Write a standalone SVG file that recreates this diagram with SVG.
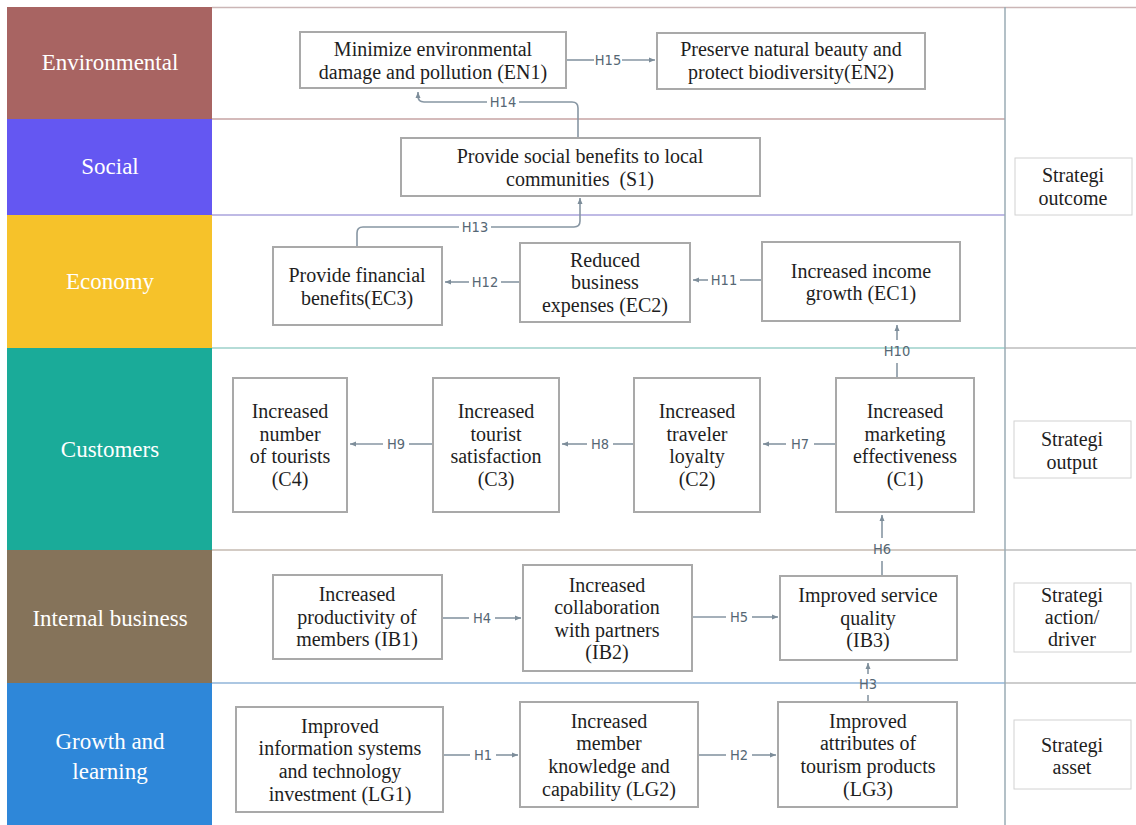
<svg xmlns="http://www.w3.org/2000/svg" width="1136" height="825" viewBox="0 0 1136 825">
<defs>
<marker id="arr" markerUnits="userSpaceOnUse" markerWidth="8" markerHeight="8" refX="6" refY="3" orient="auto">
<path d="M0,0.5 L6,3 L0,5.5 z" fill="#7d8d9a"/>
</marker>
<style>
.band{stroke:none}
.bl{font-family:"Liberation Serif","Times New Roman",serif;font-size:23px;fill:#ffffff;text-anchor:middle}
.box{fill:#ffffff;stroke:#a9a9a9;stroke-width:2}
.sbox{fill:#ffffff;stroke:#d2d2d2;stroke-width:1}
.t{font-family:"Liberation Serif","Times New Roman",serif;font-size:20px;fill:#1e1e1e;text-anchor:middle}
.c{fill:none;stroke:#8796a3;stroke-width:1.6}
.h{font-family:"DejaVu Sans Condensed","DejaVu Sans",sans-serif;font-size:14.5px;fill:#566774;text-anchor:middle}
</style>
</defs>
<rect x="0" y="0" width="1136" height="825" fill="#ffffff"/>
<g id="bands">
<rect class="band" x="7" y="7" width="205" height="112" fill="#a86462"/>
<rect class="band" x="7" y="119" width="205" height="96" fill="#6457f2"/>
<rect class="band" x="7" y="215" width="205" height="133" fill="#f6c22a"/>
<rect class="band" x="7" y="348" width="205" height="202" fill="#1aab99"/>
<rect class="band" x="7" y="550" width="205" height="133" fill="#85735a"/>
<rect class="band" x="7" y="683" width="205" height="142" fill="#2e87d9"/>
<text class="bl" x="110" y="70">Environmental</text>
<text class="bl" x="110" y="174">Social</text>
<text class="bl" x="110" y="289">Economy</text>
<text class="bl" x="110" y="457">Customers</text>
<text class="bl" x="110" y="626">Internal business</text>
<text class="bl" x="110" y="749">Growth and</text>
<text class="bl" x="110" y="779">learning</text>
</g>
<g id="grid" fill="none" stroke-width="1.5">
<line x1="212" y1="7.5" x2="1136" y2="7.5" stroke="#cbb6b6"/>
<line x1="212" y1="119" x2="1005" y2="119" stroke="#c6a3a3"/>
<line x1="212" y1="215" x2="1005" y2="215" stroke="#aaa3dc"/>
<line x1="212" y1="348" x2="1005" y2="348" stroke="#9dd0ca"/>
<line x1="1005" y1="348" x2="1136" y2="348" stroke="#bcbcbc"/>
<line x1="212" y1="550" x2="1005" y2="550" stroke="#c4bab0"/>
<line x1="1005" y1="550" x2="1136" y2="550" stroke="#bcbcbc"/>
<line x1="212" y1="683" x2="1005" y2="683" stroke="#90b5d8"/>
<line x1="1005" y1="683" x2="1136" y2="683" stroke="#bcbcbc"/>
<line x1="1005" y1="7" x2="1005" y2="825" stroke="#9aabb4"/>
</g>
<g id="connectors">
<path class="c" d="M566 60 H594"/><path class="c" d="M622 60 H655" marker-end="url(#arr)"/>
<text class="h" x="608" y="65">H15</text>
<path class="c" d="M578 138 V108 Q578 102 572 102 H519"/><path class="c" d="M487 102 H424 Q418 102 418 96 V92" marker-end="url(#arr)"/>
<text class="h" x="503" y="107">H14</text>
<path class="c" d="M357 247 V233 Q357 227 363 227 H459"/><path class="c" d="M491 227 H574 Q580 227 580 221 V198" marker-end="url(#arr)"/>
<text class="h" x="475" y="232">H13</text>
<path class="c" d="M520 282 H501"/><path class="c" d="M469 282 H445" marker-end="url(#arr)"/>
<text class="h" x="485" y="287">H12</text>
<path class="c" d="M762 280 H740"/><path class="c" d="M708 280 H693" marker-end="url(#arr)"/>
<text class="h" x="724" y="285">H11</text>
<path class="c" d="M897 378 V363"/><path class="c" d="M897 340 V325" marker-end="url(#arr)"/>
<text class="h" x="897" y="356">H10</text>
<path class="c" d="M433 444 H409"/><path class="c" d="M383 444 H350" marker-end="url(#arr)"/>
<text class="h" x="396" y="449">H9</text>
<path class="c" d="M634 444 H613"/><path class="c" d="M587 444 H562" marker-end="url(#arr)"/>
<text class="h" x="600" y="449">H8</text>
<path class="c" d="M836 444 H814"/><path class="c" d="M786 444 H763" marker-end="url(#arr)"/>
<text class="h" x="800" y="449">H7</text>
<path class="c" d="M882 576 V561"/><path class="c" d="M882 538 V515" marker-end="url(#arr)"/>
<text class="h" x="882" y="554">H6</text>
<path class="c" d="M442 618 H469"/><path class="c" d="M495 618 H521" marker-end="url(#arr)"/>
<text class="h" x="482" y="623">H4</text>
<path class="c" d="M692 617 H726"/><path class="c" d="M752 617 H778" marker-end="url(#arr)"/>
<text class="h" x="739" y="622">H5</text>
<path class="c" d="M868 702 V695"/><path class="c" d="M868 674 V663" marker-end="url(#arr)"/>
<text class="h" x="868" y="689">H3</text>
<path class="c" d="M443 755 H470"/><path class="c" d="M496 755 H518" marker-end="url(#arr)"/>
<text class="h" x="483" y="760">H1</text>
<path class="c" d="M698 755 H726"/><path class="c" d="M752 755 H776" marker-end="url(#arr)"/>
<text class="h" x="739" y="760">H2</text>
</g>
<g id="EN1"><rect class="box" x="300" y="32" width="266" height="56"/>
<text class="t" x="433" y="56">Minimize environmental</text><text class="t" x="433" y="79">damage and pollution (EN1)</text></g>
<g id="EN2"><rect class="box" x="657" y="33" width="268" height="56"/>
<text class="t" x="791" y="56">Preserve natural beauty and</text><text class="t" x="791" y="79">protect biodiversity(EN2)</text></g>
<g id="S1"><rect class="box" x="401" y="138" width="359" height="58"/>
<text class="t" x="580" y="163">Provide social benefits to local</text><text class="t" x="580" y="186" xml:space="preserve">communities  (S1)</text></g>
<g id="EC3"><rect class="box" x="273" y="247" width="169" height="78"/>
<text class="t" x="357" y="282">Provide financial</text><text class="t" x="357" y="305">benefits(EC3)</text></g>
<g id="EC2"><rect class="box" x="520" y="243" width="170" height="79"/>
<text class="t" x="605" y="267">Reduced</text><text class="t" x="605" y="289">business</text><text class="t" x="605" y="312">expenses (EC2)</text></g>
<g id="EC1"><rect class="box" x="762" y="242" width="198" height="79"/>
<text class="t" x="861" y="278">Increased income</text><text class="t" x="861" y="300">growth (EC1)</text></g>
<g id="C4"><rect class="box" x="233" y="378" width="114" height="134"/>
<text class="t" x="290" y="418">Increased</text><text class="t" x="290" y="441">number</text><text class="t" x="290" y="463">of tourists</text><text class="t" x="290" y="486">(C4)</text></g>
<g id="C3"><rect class="box" x="433" y="378" width="126" height="134"/>
<text class="t" x="496" y="418">Increased</text><text class="t" x="496" y="441">tourist</text><text class="t" x="496" y="463">satisfaction</text><text class="t" x="496" y="486">(C3)</text></g>
<g id="C2"><rect class="box" x="634" y="378" width="126" height="134"/>
<text class="t" x="697" y="418">Increased</text><text class="t" x="697" y="441">traveler</text><text class="t" x="697" y="463">loyalty</text><text class="t" x="697" y="486">(C2)</text></g>
<g id="C1"><rect class="box" x="836" y="378" width="138" height="134"/>
<text class="t" x="905" y="418">Increased</text><text class="t" x="905" y="441">marketing</text><text class="t" x="905" y="463">effectiveness</text><text class="t" x="905" y="486">(C1)</text></g>
<g id="IB1"><rect class="box" x="273" y="575" width="169" height="84"/>
<text class="t" x="357" y="601">Increased</text><text class="t" x="357" y="624">productivity of</text><text class="t" x="357" y="646">members (IB1)</text></g>
<g id="IB2"><rect class="box" x="523" y="565" width="169" height="106"/>
<text class="t" x="607" y="592">Increased</text><text class="t" x="607" y="614">collaboration</text><text class="t" x="607" y="637">with partners</text><text class="t" x="607" y="659">(IB2)</text></g>
<g id="IB3"><rect class="box" x="780" y="576" width="177" height="84"/>
<text class="t" x="868" y="602">Improved service</text><text class="t" x="868" y="625">quality</text><text class="t" x="868" y="647">(IB3)</text></g>
<g id="LG1"><rect class="box" x="236" y="707" width="207" height="105"/>
<text class="t" x="340" y="733">Improved</text><text class="t" x="340" y="755">information systems</text><text class="t" x="340" y="778">and technology</text><text class="t" x="340" y="801">investment (LG1)</text></g>
<g id="LG2"><rect class="box" x="520" y="702" width="178" height="105"/>
<text class="t" x="609" y="728">Increased</text><text class="t" x="609" y="750">member</text><text class="t" x="609" y="773">knowledge and</text><text class="t" x="609" y="796">capability (LG2)</text></g>
<g id="LG3"><rect class="box" x="778" y="702" width="179" height="105"/>
<text class="t" x="868" y="728">Improved</text><text class="t" x="868" y="750">attributes of</text><text class="t" x="868" y="773">tourism products</text><text class="t" x="868" y="796">(LG3)</text></g>
<g id="outcome"><rect class="sbox" x="1015" y="158" width="117" height="57"/>
<text class="t" x="1073" y="182">Strategi</text><text class="t" x="1073" y="205">outcome</text></g>
<g id="output"><rect class="sbox" x="1014" y="421" width="117" height="57"/>
<text class="t" x="1072" y="446">Strategi</text><text class="t" x="1072" y="469">output</text></g>
<g id="driver"><rect class="sbox" x="1014" y="583" width="117" height="69"/>
<text class="t" x="1072" y="602">Strategi</text><text class="t" x="1072" y="624">action/</text><text class="t" x="1072" y="646">driver</text></g>
<g id="asset"><rect class="sbox" x="1014" y="720" width="117" height="69"/>
<text class="t" x="1072" y="752">Strategi</text><text class="t" x="1072" y="774">asset</text></g>
</svg>
